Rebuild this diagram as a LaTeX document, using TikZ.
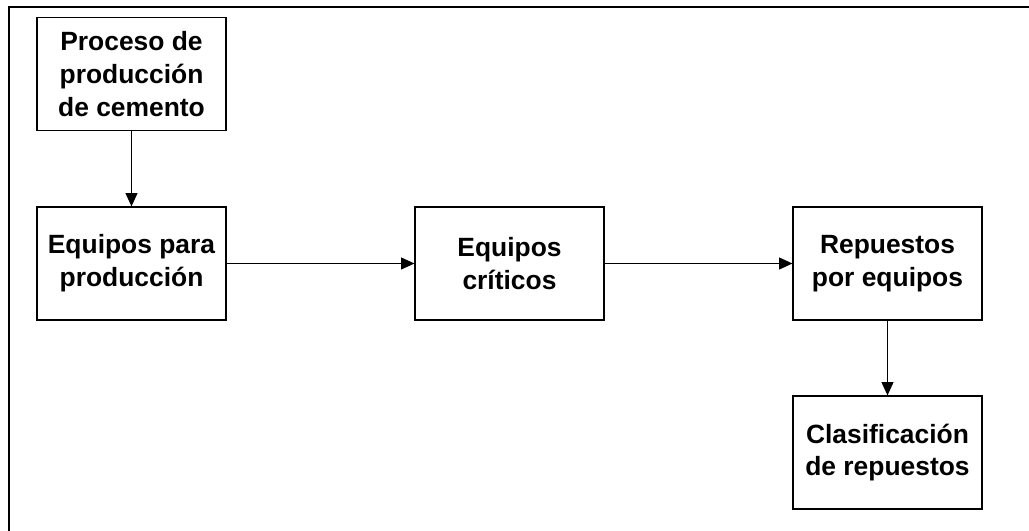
\documentclass[tikz,border=0pt]{standalone}
\usepackage{fontspec}
\setmainfont{Liberation Sans}
\usetikzlibrary{arrows.meta}
\begin{document}
\begin{tikzpicture}[x=0.75pt, y=-0.75pt, >={Triangle[length=10pt,width=9pt]},
	caja/.style={draw, line width=0.9pt, minimum width=141.75pt, minimum height=84.75pt,
		align=center, inner sep=0pt, font=\bfseries\fontsize{19.8}{24.5}\selectfont}]
	
	% marco (solo borde superior e izquierdo)
	\useasboundingbox (0,0) rectangle (1029,531);
	\draw[line width=1.6pt] (1029,7) -- (9,7) -- (9,531);
	
	% cajas
	\node[caja] (proceso) at (131.5,74) {Proceso de\\producción\\de cemento};
	\node[caja] (equipos) at (131.5,263.5) {Equipos para\\producción};
	\node[caja] (criticos) at (509.5,263.5) {Equipos\\críticos};
	\node[caja] (repuestos) at (887.5,263.5) {Repuestos\\por equipos};
	\node[caja] (clasif) at (887.5,452.5) {Clasificación\\de repuestos};
	
	% flechas
	\draw[->, line width=0.8pt] (proceso) -- (equipos);
	\draw[->, line width=0.8pt] (equipos) -- (criticos);
	\draw[->, line width=0.8pt] (criticos) -- (repuestos);
	\draw[->, line width=0.8pt] (repuestos) -- (clasif);
	
\end{tikzpicture}
\end{document}
